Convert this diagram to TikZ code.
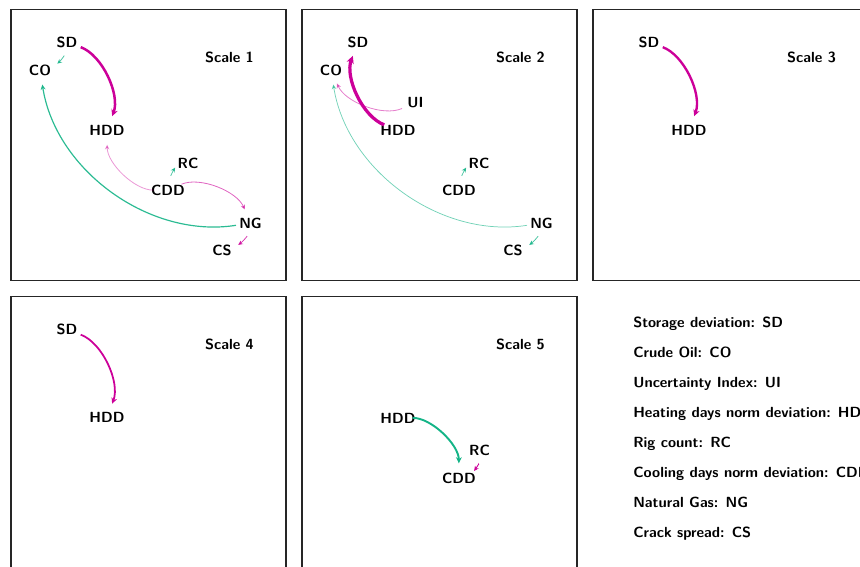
\documentclass[tikz,border=0pt]{standalone}
\usetikzlibrary{arrows.meta,positioning}
\definecolor{posc}{RGB}{204,0,153}
\definecolor{negc}{RGB}{20,180,135}
\tikzset{
    var/.style={font=\sffamily\bfseries, inner sep=1pt},
    title/.style={font=\sffamily\bfseries},
    panel/.style={draw=black!85, line width=1.3pt},
    link/.style={-{Stealth[length=2.6pt 1.2, width=2.4pt 1.2]}, bend left=45,
        shorten <=10pt, shorten >=10pt},
    near/.style={bend left=10, shorten <=5pt, shorten >=4pt},
    poslink/.style={link, posc},
    neglink/.style={link, negc},
    legend/.style={font=\sffamily\bfseries, anchor=base west, inner sep=0pt}
}

\begin{document}
\begin{tikzpicture}[x=0.68pt, y=-0.68pt]
\useasboundingbox (0,0) rectangle (860,566);

% Scale 1
\begin{scope}[shift={(11,9.5)}, name prefix=a-]
    \draw[panel] (0,0) rectangle (275,271);
    \node[title] (title) at (218.5,47.5) {Scale 1};
    \node[var] (SD) at (56,32.5) {SD};
    \node[var] (CO) at (29,60.5) {CO};
    \node[var] (HDD) at (96,120.5) {HDD};
    \node[var] (RC) at (177,154) {RC};
    \node[var] (CDD) at (157,180.5) {CDD};
    \node[var] (NG) at (239.5,213.5) {NG};
    \node[var] (CS) at (211,240.5) {CS};

    \draw[neglink, near, line width=0.5pt, opacity=0.8] (SD.-83) to (CO.11);
    \draw[poslink, line width=1.7pt] (SD.center) to (HDD.center);
    \draw[poslink, line width=0.55pt, opacity=0.4] (CDD.center) to (HDD.center);
    \draw[poslink, line width=0.55pt, opacity=0.6] (CDD.center) to (NG.center);
    \draw[neglink, near, line width=0.5pt, opacity=0.8, shorten >=1pt] (CDD.80) to (RC.193);
    \draw[neglink, line width=0.8pt, opacity=0.9] (NG.center) to (CO.center);
    \draw[poslink, near, line width=0.5pt, opacity=0.8] (NG.-84) to (CS.8);
\end{scope}

% Scale 2
\begin{scope}[shift={(302,9.5)}, name prefix=b-]
    \draw[panel] (0,0) rectangle (275,271);
    \node[title] (title) at (218.5,47.5) {Scale 2};
    \node[var] (SD) at (56,32.5) {SD};
    \node[var] (CO) at (29,60.5) {CO};
    \node[var] (UI) at (113.5,93) {UI};
    \node[var] (HDD) at (96,120.5) {HDD};
    \node[var] (RC) at (177,154) {RC};
    \node[var] (CDD) at (157,180.5) {CDD};
    \node[var] (NG) at (239.5,213.5) {NG};
    \node[var] (CS) at (211,240.5) {CS};

    \draw[poslink, line width=2.2pt] (HDD.center) to (SD.center);
    \draw[poslink, line width=0.55pt, opacity=0.5] (UI.center) to (CO.center);
    \draw[neglink, line width=0.5pt, opacity=0.6] (NG.center) to (CO.center);
    \draw[neglink, near, line width=0.5pt, opacity=0.8, shorten >=1pt] (CDD.80) to (RC.193);
    \draw[neglink, near, line width=0.5pt, opacity=0.8] (NG.-84) to (CS.8);
\end{scope}

% Scale 3
\begin{scope}[shift={(593,9.5)}, name prefix=c-]
    \draw[panel] (0,0) rectangle (275,271);
    \node[title] (title) at (218.5,47.5) {Scale 3};
    \node[var] (SD) at (56,32.5) {SD};
    \node[var] (HDD) at (96,120.5) {HDD};

    \draw[poslink, line width=1.6pt] (SD.center) to (HDD.center);
\end{scope}

% Scale 4
\begin{scope}[shift={(11,296.5)}, name prefix=d-]
    \draw[panel] (0,0) rectangle (275,271);
    \node[title] (title) at (218.5,48) {Scale 4};
    \node[var] (SD) at (56,33) {SD};
    \node[var] (HDD) at (96,121) {HDD};

    \draw[poslink, line width=1.2pt] (SD.center) to (HDD.center);
\end{scope}

% Scale 5
\begin{scope}[shift={(302,296.5)}, name prefix=e-]
    \draw[panel] (0,0) rectangle (275,271);
    \node[title] (title) at (218.5,48) {Scale 5};
    \node[var] (HDD) at (96,121.5) {HDD};
    \node[var] (RC) at (177.5,154) {RC};
    \node[var] (CDD) at (157,181.5) {CDD};

    \draw[neglink, line width=1.3pt] (HDD.center) to (CDD.center);
    \draw[poslink, near, line width=0.6pt, shorten >=0pt] (RC.-81) to (CDD.25);
\end{scope}

% legend
\node[legend] (lsd) at (633,327) {Storage deviation: SD};
\node[legend] (lco) at (633,357) {Crude Oil: CO};
\node[legend] (lui) at (633,387) {Uncertainty Index: UI};
\node[legend] (lhdd) at (633,417) {Heating days norm deviation: HDD};
\node[legend] (lrc) at (633,447) {Rig count: RC};
\node[legend] (lcdd) at (633,477) {Cooling days norm deviation: CDD};
\node[legend] (lng) at (633,507) {Natural Gas: NG};
\node[legend] (lcs) at (633,537) {Crack spread: CS};
\end{tikzpicture}
\end{document}
